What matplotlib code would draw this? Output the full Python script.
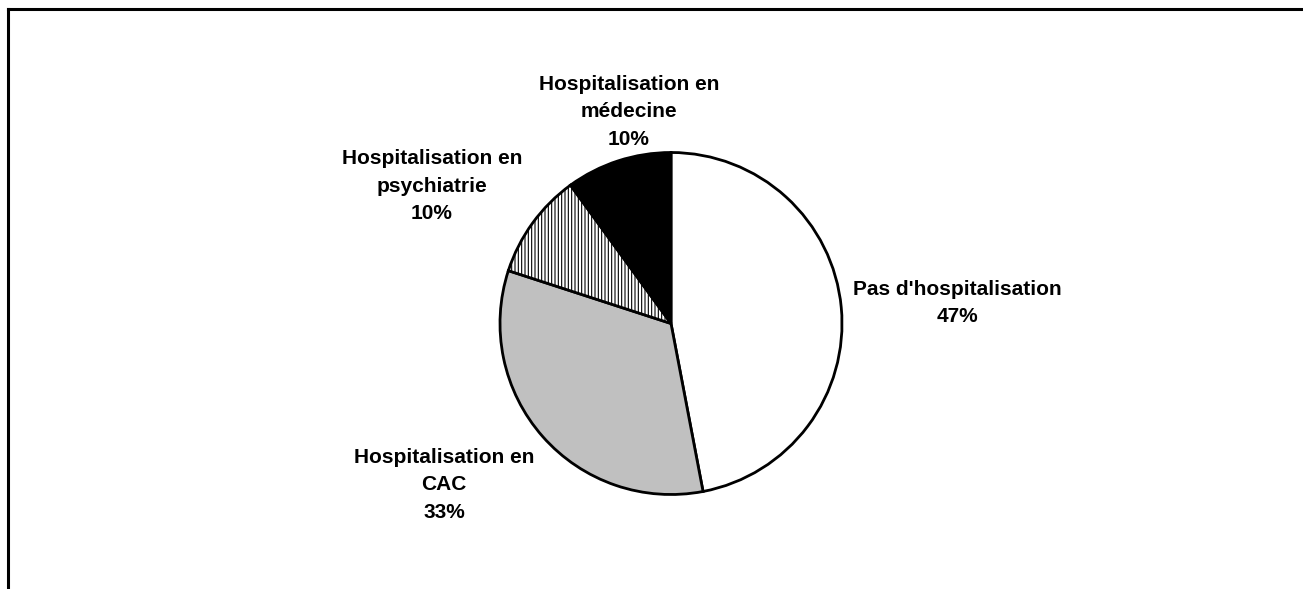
import matplotlib
matplotlib.use("Agg")
import matplotlib.pyplot as plt
from matplotlib.lines import Line2D

plt.rcParams['font.family'] = ['Liberation Sans', 'DejaVu Sans']
plt.rcParams['hatch.linewidth'] = 0.8

categories = ["Pas d'hospitalisation", "Hospitalisation en\nCAC",
              "Hospitalisation en\npsychiatrie", "Hospitalisation en\nmédecine"]
values = [47, 33, 10, 10]

# styles and label placement (in pie radius units)
colors = ['white', '#c0c0c0', 'white', 'black']
hatches = [None, None, '|||||', None]
label_pos = [(1.673, 0.12), (-1.327, -0.944), (-1.398, 0.804), (-0.246, 1.237)]

W, H = 1303, 589
cx, cy, scale = 671, 323.5, 171.0   # pie centre (px) and radius (px)

fig = plt.figure(figsize=(W / 100, H / 100), dpi=100)
ax = fig.add_axes([0, 0, 1, 1])

wedges, _ = ax.pie(values, colors=colors, startangle=90, counterclock=False,
                   radius=1, center=(0, 0), frame=True,
                   wedgeprops=dict(edgecolor='black', linewidth=2.0))
ax.set_xlim(-cx / scale, (W - cx) / scale)
ax.set_ylim(-(H - cy) / scale, cy / scale)
ax.set_aspect('auto')
ax.axis('off')
for w, h in zip(wedges, hatches):
    if h:
        w.set_hatch(h)

total = sum(values)
for name, v, (x, y) in zip(categories, values, label_pos):
    ax.text(x, y, f"{name}\n{round(100 * v / total)}%", ha='center', va='center',
            fontsize=15, fontweight='bold', linespacing=1.55)

# chart border (left and top edges visible)
fig.add_artist(Line2D([8 / W, 8 / W], [0, 1 - 9 / H], color='black', lw=2.2,
                      transform=fig.transFigure, solid_capstyle='projecting'))
fig.add_artist(Line2D([8 / W, 1], [1 - 9 / H, 1 - 9 / H], color='black', lw=2.2,
                      transform=fig.transFigure, solid_capstyle='projecting'))

fig.savefig('out.png', dpi=100, facecolor='white')
